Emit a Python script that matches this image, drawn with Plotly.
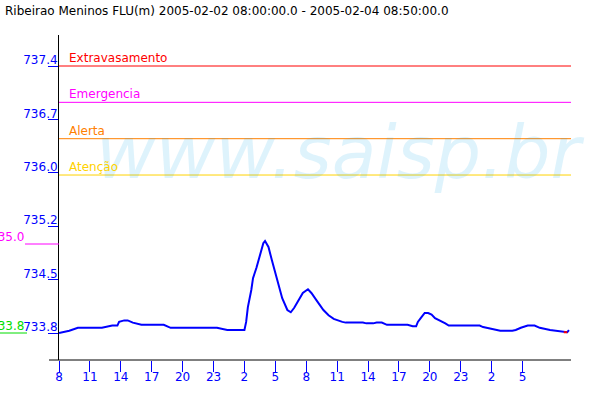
import plotly.graph_objects as go

title_text = "Ribeirao Meninos FLU(m) 2005-02-02 08:00:00.0 - 2005-02-04 08:50:00.0"

times = [
    "2005-02-02 08:00", "2005-02-02 09:00", "2005-02-02 09:50", "2005-02-02 12:10",
    "2005-02-02 13:10", "2005-02-02 13:40", "2005-02-02 13:50", "2005-02-02 14:20",
    "2005-02-02 14:40", "2005-02-02 15:10", "2005-02-02 16:00", "2005-02-02 18:10",
    "2005-02-02 18:50", "2005-02-02 23:20", "2005-02-03 00:20", "2005-02-03 02:00",
    "2005-02-03 02:10", "2005-02-03 02:20", "2005-02-03 02:40", "2005-02-03 02:50",
    "2005-02-03 03:10", "2005-02-03 03:30", "2005-02-03 03:50", "2005-02-03 04:00",
    "2005-02-03 04:20", "2005-02-03 04:40", "2005-02-03 05:10", "2005-02-03 05:40",
    "2005-02-03 06:10", "2005-02-03 06:30", "2005-02-03 06:50", "2005-02-03 07:20",
    "2005-02-03 07:40", "2005-02-03 08:10", "2005-02-03 08:30", "2005-02-03 09:00",
    "2005-02-03 09:40", "2005-02-03 10:10", "2005-02-03 10:40", "2005-02-03 11:30",
    "2005-02-03 11:50", "2005-02-03 13:30", "2005-02-03 13:50", "2005-02-03 14:30",
    "2005-02-03 14:50", "2005-02-03 15:20", "2005-02-03 15:50", "2005-02-03 17:50",
    "2005-02-03 18:20", "2005-02-03 18:40", "2005-02-03 18:50", "2005-02-03 19:10",
    "2005-02-03 19:30", "2005-02-03 19:50", "2005-02-03 20:10", "2005-02-03 20:30",
    "2005-02-03 21:00", "2005-02-03 21:30", "2005-02-03 21:50", "2005-02-04 00:50",
    "2005-02-04 01:10", "2005-02-04 01:50", "2005-02-04 02:20", "2005-02-04 02:50",
    "2005-02-04 04:00", "2005-02-04 04:20", "2005-02-04 04:50", "2005-02-04 05:30",
    "2005-02-04 06:10", "2005-02-04 06:40", "2005-02-04 07:40", "2005-02-04 08:30",
    "2005-02-04 08:50", "2005-02-04 09:00", "2005-02-04 09:20", "2005-02-04 09:30",
]
levels = [
    733.80, 733.83, 733.87, 733.87,
    733.90, 733.90, 733.95, 733.97,
    733.97, 733.94, 733.91, 733.91,
    733.87, 733.87, 733.84, 733.84,
    733.95, 734.15, 734.38, 734.54,
    734.68, 734.85, 735.01, 735.04,
    734.96, 734.78, 734.51, 734.27,
    734.11, 734.08, 734.14, 734.27,
    734.34, 734.39, 734.34, 734.24,
    734.11, 734.04, 733.99, 733.95,
    733.94, 733.94, 733.93, 733.93,
    733.94, 733.94, 733.91, 733.91,
    733.89, 733.89, 733.95, 734.01,
    734.07, 734.07, 734.05, 734.00,
    733.97, 733.93, 733.90, 733.90,
    733.88, 733.86, 733.84, 733.83,
    733.83, 733.84, 733.87, 733.90,
    733.90, 733.87, 733.84, 733.82,
    733.82, 733.81, 733.81, 733.84,
]
last_times = ["2005-02-04 09:00", "2005-02-04 09:20"]
last_levels = [733.81, 733.81]

threshold_names = ["Extravasamento", "Emergencia", "Alerta", "Atenção"]
threshold_values = [737.4, 736.91, 736.42, 735.93]
threshold_colors = ["#ff0000", "#ff00ff", "#ff8000", "#ffd200"]

y_tick_values = [733.8, 734.52, 735.24, 735.96, 736.68, 737.4]
y_tick_labels = ["733.8", "734.5", "735.2", "736.0", "736.7", "737.4"]

x_tick_values = [
    "2005-02-02 08:00", "2005-02-02 11:00", "2005-02-02 14:00", "2005-02-02 17:00",
    "2005-02-02 20:00", "2005-02-02 23:00", "2005-02-03 02:00", "2005-02-03 05:00",
    "2005-02-03 08:00", "2005-02-03 11:00", "2005-02-03 14:00", "2005-02-03 17:00",
    "2005-02-03 20:00", "2005-02-03 23:00", "2005-02-04 02:00", "2005-02-04 05:00",
]
x_tick_labels = ["8", "11", "14", "17", "20", "23", "2", "5",
                 "8", "11", "14", "17", "20", "23", "2", "5"]

max_value = 735.0
min_value = 733.8

FONT = "DejaVu Sans"
BLUE = "#0000ff"

fig = go.Figure()
fig.add_trace(go.Scatter(x=times, y=levels, mode="lines",
                         line=dict(color=BLUE, width=2), hoverinfo="skip"))
fig.add_trace(go.Scatter(x=last_times, y=last_levels, mode="lines",
                         line=dict(color="#ff0000", width=2), hoverinfo="skip"))

shapes = []
annotations = []
# watermark
annotations.append(dict(text="www.saisp.br", xref="paper", yref="paper",
                        x=0.55, y=0.64, xanchor="center", yanchor="middle",
                        showarrow=False,
                        font=dict(family=FONT, size=73, color="rgba(0,165,235,0.13)",
                                  style="italic")))
for name, val, col in zip(threshold_names, threshold_values, threshold_colors):
    shapes.append(dict(type="line", xref="paper", yref="y", x0=0, x1=1,
                       y0=val, y1=val, line=dict(color=col, width=1)))
    annotations.append(dict(text=name, xref="paper", yref="y", x=8/512, y=val,
                            xanchor="left", yanchor="bottom", showarrow=False,
                            yshift=-1,
                            font=dict(family=FONT, size=12, color=col)))

# max / min markers on the left
shapes.append(dict(type="line", xref="paper", yref="y", x0=-34/512, x1=0,
                   y0=max_value, y1=max_value, line=dict(color="#ff00ff", width=1)))
annotations.append(dict(text=f"{max_value:.1f}", xref="paper", yref="y",
                        x=-33/512, y=max_value, xanchor="right", yanchor="bottom",
                        showarrow=False, yshift=-2,
                        font=dict(family=FONT, size=12, color="#ff00ff")))
shapes.append(dict(type="line", xref="paper", yref="y", x0=-60/512, x1=-32/512,
                   y0=min_value, y1=min_value, line=dict(color="#00dd00", width=1)))
annotations.append(dict(text=f"{min_value:.1f}", xref="paper", yref="y",
                        x=-33/512, y=min_value, xanchor="right", yanchor="bottom",
                        showarrow=False, yshift=-2,
                        font=dict(family=FONT, size=12, color="#00dd00")))
# x axis line extending left of the y axis
shapes.append(dict(type="line", xref="paper", yref="paper", x0=-10/512, x1=1,
                   y0=0, y1=0, line=dict(color="black", width=1)))

fig.update_layout(
    width=600, height=400,
    margin=dict(l=59, r=29, t=35, b=40, autoexpand=False),
    paper_bgcolor="white", plot_bgcolor="white",
    showlegend=False,
    title=dict(text=title_text, x=5/600, xanchor="left", xref="container",
               y=1 - 11/400, yanchor="middle", yref="container",
               font=dict(family=FONT, size=12, color="black")),
    font=dict(family=FONT, size=12, color=BLUE),
    shapes=shapes, annotations=annotations,
    xaxis=dict(type="date", range=["2005-02-02 08:00", "2005-02-04 09:42"],
               tickvals=x_tick_values, ticktext=x_tick_labels, automargin=False,
               ticks="outside", ticklen=11, tickcolor=BLUE, tickwidth=1,
               ticklabelstandoff=-5,
               showgrid=False, zeroline=False, showline=False,
               tickfont=dict(family=FONT, size=12, color=BLUE)),
    yaxis=dict(range=[733.436, 737.818], tickvals=y_tick_values, ticktext=y_tick_labels,
               automargin=False,
               ticks="outside", ticklen=10, tickcolor=BLUE, tickwidth=1,
               ticklabelstandoff=-12, ticklabelshift=-6,
               showgrid=False, zeroline=False, showline=True, linecolor="black",
               linewidth=1, tickfont=dict(family=FONT, size=12, color=BLUE)),
)

fig.write_html("out.html", config={"displayModeBar": False, "staticPlot": True},
               post_script="document.body.style.margin='0';document.body.style.padding='0';")
